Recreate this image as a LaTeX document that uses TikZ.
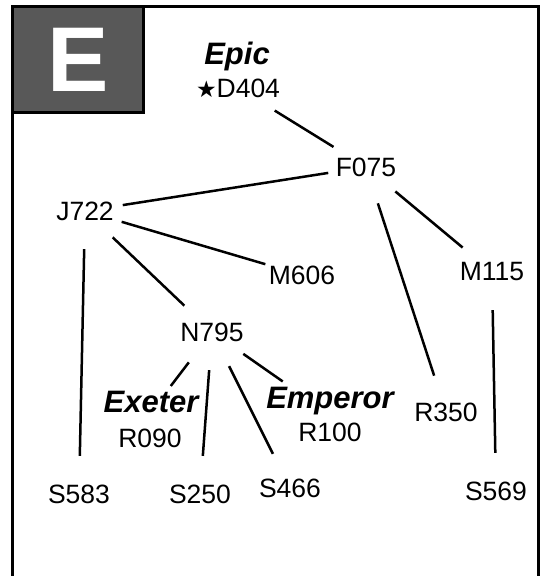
\documentclass[tikz,border=0pt]{standalone}
\usepackage{fontspec}
\setmainfont{Liberation Sans}
\newfontfamily\starfont{DejaVu Sans}
\usepackage{tikz}

\definecolor{boxgray}{HTML}{585858}

\begin{document}
\begin{tikzpicture}[x=1pt,y=-1pt]

	\tikzstyle{frame lines}=[line width=3pt];
	\tikzstyle{tree lines}=[line width=2.5pt];
	\tikzstyle{code node}=[circle,minimum size=76pt,inner sep=0pt,font=\fontsize{26.5}{26.5}\selectfont];
	\tikzstyle{name label}=[inner sep=5pt,font=\bfseries\itshape\fontsize{31}{31}\selectfont];

	\useasboundingbox (0,0) rectangle (540,576);

	% frame and letter box
	\draw[frame lines] (12.5,582) -- (12.5,6.5) -- (538.5,6.5) -- (538.5,582);
	\draw[frame lines,fill=boxgray] (12.5,6.5) rectangle (143,112);
	\node[text=white,font=\bfseries\fontsize{92}{92}\selectfont] (letter) at (78,60) {E};

	% names
	\node[name label,anchor=base] (epic) at (237,64) {Epic};
	\node[name label] (exeter) at (151,402) {Exeter};
	\node[name label,anchor=base] (emperor) at (330,408) {Emperor};

	% codes
	\node[code node,anchor=base] (D404) at (238,97) {{\starfont\fontsize{23}{23}\selectfont ★}D404};
	\foreach \x/\y/\code in {366/167/F075,85/211/J722,302/275/M606,492/272/M115,212/332/N795,
			150/438/R090,330/432/R100,446/412/R350,79/494/S583,200/494/S250,290/488/S466,496/491/S569}
		\node[code node] (\code) at (\x,\y) {\code};

	% tree
	\draw[tree lines] (D404) -- (F075);
	\foreach \a/\b in {F075/J722,F075/R350,F075/M115,J722/M606,J722/N795,J722/S583,M115/S569,N795/S250,N795/S466}
		\draw[tree lines] (\a) -- (\b);
	\draw[tree lines] (N795) -- (exeter.39);
	\draw[tree lines] (N795) -- (emperor.158);

\end{tikzpicture}
\end{document}
